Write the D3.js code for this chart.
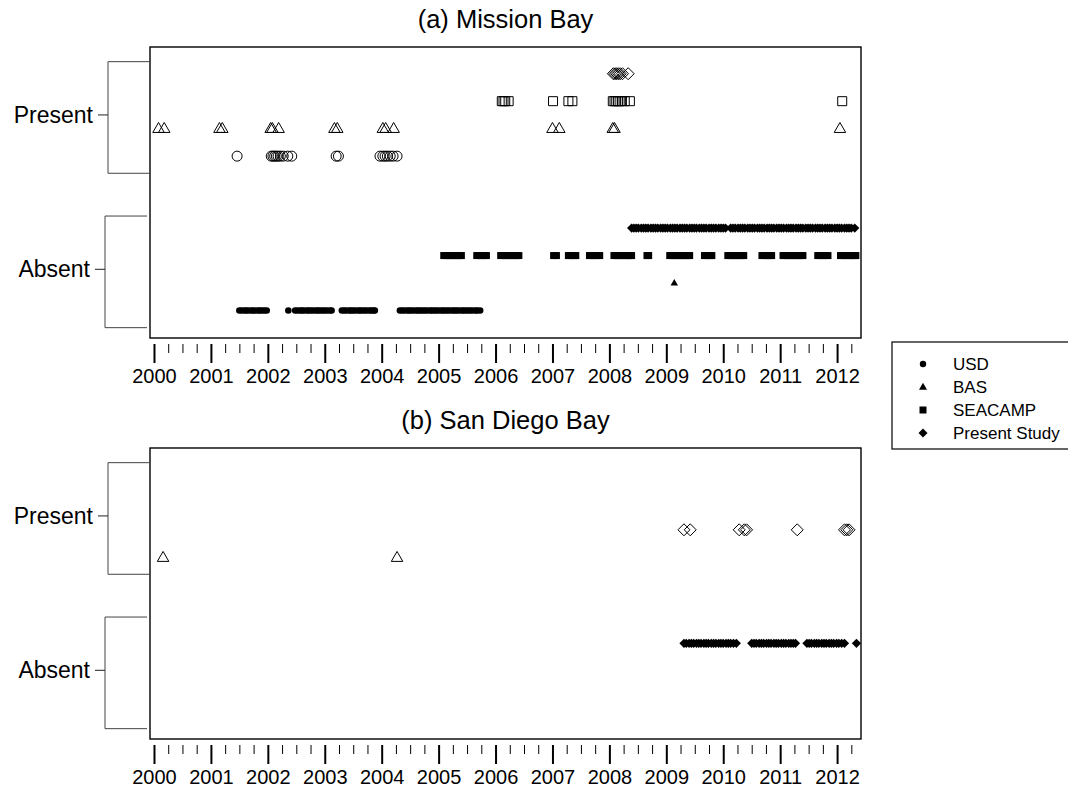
<!DOCTYPE html>
<html>
<head>
<meta charset="utf-8">
<script src="https://cdn.jsdelivr.net/npm/d3@7"></script>
<style>
  body { margin: 0; background: #fff; }
  svg text { font-family: "Liberation Sans", Arial, sans-serif; fill: #000; }
</style>
</head>
<body>
<svg id="chart" width="1068" height="787"></svg>
<script>
// ---- data (decimal years) ----
const yearTicks = [2000, 2001, 2002, 2003, 2004, 2005, 2006, 2007, 2008, 2009, 2010, 2011, 2012];
const statusLabels = ['Absent', 'Present'];
const sourceNames = ['USD', 'BAS', 'SEACAMP', 'Present Study'];
const panelTitles = ['(a) Mission Bay', '(b) San Diego Bay'];

// Mission Bay - present
const mbPresentUSD = [2001.46, 2002.06, 2002.09, 2002.12, 2002.15, 2002.18, 2002.22, 2002.27, 2002.35, 2002.42,
  2003.2, 2003.24, 2003.97, 2004.02, 2004.06, 2004.1, 2004.15, 2004.2, 2004.27];
const mbPresentBAS = [2000.08, 2000.18, 2001.15, 2001.2, 2002.05, 2002.08, 2002.19, 2003.17, 2003.22,
  2004.02, 2004.07, 2004.21, 2007.0, 2007.12, 2008.06, 2008.09, 2012.05];
const mbPresentSEACAMP = [2006.11, 2006.14, 2006.17, 2006.23, 2007.01, 2007.28, 2007.35,
  2008.06, 2008.09, 2008.12, 2008.15, 2008.18, 2008.22, 2008.27, 2008.36, 2012.09];
const mbPresentStudy = [2008.07, 2008.1, 2008.13, 2008.16, 2008.19, 2008.23, 2008.33];

// Mission Bay - absent
const mbAbsentUSD = [2001.5, 2001.54, 2001.59, 2001.62, 2001.66, 2001.71, 2001.74, 2001.78, 2001.83, 2001.86,
  2001.9, 2001.94, 2001.98, 2002.36,
  2002.48, 2002.52, 2002.57, 2002.6, 2002.64, 2002.69, 2002.72, 2002.76, 2002.8, 2002.85, 2002.88, 2002.92,
  2002.96, 2003.0, 2003.04, 2003.09, 2003.12,
  2003.3, 2003.34, 2003.38, 2003.43, 2003.46, 2003.5, 2003.54, 2003.59, 2003.62, 2003.66, 2003.7, 2003.74,
  2003.79, 2003.82, 2003.86, 2003.88,
  2004.32, 2004.36, 2004.4, 2004.45, 2004.48, 2004.52, 2004.56, 2004.61, 2004.64, 2004.68, 2004.72, 2004.76,
  2004.8, 2004.85, 2004.88, 2004.92, 2004.96, 2005.0, 2005.05, 2005.08, 2005.12, 2005.16, 2005.2, 2005.25,
  2005.28, 2005.32, 2005.36, 2005.41, 2005.44, 2005.48, 2005.52, 2005.56, 2005.6, 2005.65, 2005.68, 2005.73];
const mbAbsentBAS = [2009.14];
const mbAbsentSEACAMP = [2005.09, 2005.13, 2005.17, 2005.21, 2005.25, 2005.29, 2005.33, 2005.37, 2005.4,
  2005.67, 2005.71, 2005.76, 2005.8, 2005.84,
  2006.09, 2006.13, 2006.17, 2006.21, 2006.25, 2006.29, 2006.33, 2006.37, 2006.41,
  2007.02, 2007.07,
  2007.28, 2007.32, 2007.37, 2007.41,
  2007.65, 2007.69, 2007.74, 2007.78, 2007.83,
  2008.08, 2008.12, 2008.16, 2008.2, 2008.24, 2008.28, 2008.32, 2008.36, 2008.39,
  2008.66, 2008.69,
  2009.06, 2009.1, 2009.14, 2009.18, 2009.22, 2009.26, 2009.3, 2009.34, 2009.38, 2009.41,
  2009.67, 2009.71, 2009.76, 2009.8,
  2010.08, 2010.12, 2010.16, 2010.2, 2010.24, 2010.28, 2010.32, 2010.36,
  2010.68, 2010.72, 2010.77, 2010.81, 2010.85,
  2011.05, 2011.09, 2011.13, 2011.17, 2011.21, 2011.25, 2011.29, 2011.33, 2011.37, 2011.4,
  2011.66, 2011.7, 2011.75, 2011.79, 2011.84,
  2012.06, 2012.1, 2012.14, 2012.18, 2012.22, 2012.26, 2012.3, 2012.33];
const mbAbsentStudy = [2008.39, 2008.43, 2008.47, 2008.51, 2008.56, 2008.6, 2008.64, 2008.68, 2008.73, 2008.77,
  2008.81, 2008.85, 2008.9, 2008.94, 2008.98, 2009.02, 2009.07, 2009.11, 2009.15, 2009.19, 2009.24, 2009.28,
  2009.32, 2009.36, 2009.41, 2009.45, 2009.49, 2009.53, 2009.58, 2009.62, 2009.66, 2009.7, 2009.75, 2009.79,
  2009.83, 2009.87, 2009.92, 2009.96, 2010.0, 2010.04, 2010.13, 2010.17, 2010.21, 2010.26, 2010.3, 2010.34,
  2010.38, 2010.43, 2010.47, 2010.51, 2010.55, 2010.6, 2010.64, 2010.68, 2010.72, 2010.77, 2010.81, 2010.85,
  2010.89, 2010.94, 2010.98, 2011.02, 2011.06, 2011.11, 2011.15, 2011.19, 2011.23, 2011.28, 2011.32, 2011.36,
  2011.4, 2011.45, 2011.49, 2011.53, 2011.57, 2011.62, 2011.66, 2011.7, 2011.74, 2011.79, 2011.83, 2011.87,
  2011.91, 2011.96, 2012.0, 2012.04, 2012.08, 2012.13, 2012.17, 2012.21, 2012.25, 2012.31];

// San Diego Bay
const sdPresentBAS = [2000.16, 2004.27];
const sdPresentStudy = [2009.31, 2009.42, 2010.28, 2010.37, 2010.41, 2011.3, 2012.13, 2012.17, 2012.21];
const sdAbsentStudy = [2009.31, 2009.35, 2009.4, 2009.44, 2009.48, 2009.53, 2009.57, 2009.61, 2009.66, 2009.7,
  2009.74, 2009.79, 2009.83, 2009.87, 2009.92, 2009.96, 2010.0, 2010.05, 2010.09, 2010.13, 2010.18, 2010.23,
  2010.5, 2010.54, 2010.58, 2010.63, 2010.67, 2010.71, 2010.76, 2010.8, 2010.84, 2010.89, 2010.93, 2010.97,
  2011.02, 2011.06, 2011.1, 2011.15, 2011.19, 2011.23, 2011.27,
  2011.47, 2011.51, 2011.55, 2011.6, 2011.64, 2011.68, 2011.73, 2011.77, 2011.81, 2011.86, 2011.9, 2011.94,
  2011.99, 2012.03, 2012.08, 2012.13, 2012.34];

// ---- layout ----
const boxLeft = 150, boxRight = 861, boxHeight = 291;
const svg = d3.select('#chart');

const x = d3.scaleLinear().domain([1999.93, 2012.42]).range([boxLeft, boxRight]);
const minorTicks = d3.range(2000, 2012.3, 0.25).filter(t => t % 1 !== 0);

// marker shape around (0,0)
function shapePath(shape, s) {
  if (shape === 'triangle') {
    let h = s * Math.sqrt(3) / 2;
    return 'M0,' + (-h * 0.62) + 'L' + (s / 2) + ',' + (h * 0.38) + 'L' + (-s / 2) + ',' + (h * 0.38) + 'Z';
  }
  if (shape === 'square') {
    return 'M' + (-s / 2) + ',' + (-s / 2) + 'h' + s + 'v' + s + 'h' + (-s) + 'Z';
  }
  if (shape === 'diamond') {
    return 'M0,' + (-s) + 'L' + s + ',0L0,' + s + 'L' + (-s) + ',0Z';
  }
  return 'M' + (-s) + ',0a' + s + ',' + s + ' 0 1,0 ' + (2 * s) + ',0a' + s + ',' + s + ' 0 1,0 ' + (-2 * s) + ',0Z';
}

const hollowSize = { circle: 5, triangle: 11.5, square: 9, diamond: 6 };
const solidSize = { circle: 3.3, triangle: 7.5, square: 7, diamond: 4.6 };

function drawPanel(top, title, series) {
  let bottom = top + boxHeight;
  let y = d3.scaleLinear().domain([-0.445, 1.44]).range([bottom, top]);
  let g = svg.append('g');

  g.append('text')
    .attr('x', (boxLeft + boxRight) / 2)
    .attr('y', top - 19)
    .attr('text-anchor', 'middle')
    .style('font-size', '25.5px')
    .text(title);

  g.append('rect')
    .attr('x', boxLeft).attr('y', top)
    .attr('width', boxRight - boxLeft).attr('height', boxHeight)
    .attr('fill', 'none').attr('stroke', '#000').attr('stroke-width', 1.4);

  // brackets + y ticks
  [1, 0].forEach((v, i) => {
    let bx = i === 0 ? 108 : 105;
    let y0 = y(v + 0.345), y1 = y(v - 0.378);
    g.append('path')
      .attr('d', 'M' + (bx + 42) + ',' + y0 + 'H' + bx + 'V' + y1 + 'H' + (bx + 42))
      .attr('fill', 'none').attr('stroke', '#444').attr('stroke-width', 1);
    g.append('line')
      .attr('x1', bx - 10).attr('x2', bx)
      .attr('y1', y(v)).attr('y2', y(v))
      .attr('stroke', '#222').attr('stroke-width', 1);
    g.append('text')
      .attr('x', bx - 15).attr('y', y(v))
      .attr('dy', '0.35em')
      .attr('text-anchor', 'end')
      .style('font-size', '23px')
      .text(statusLabels[v]);
  });

  // x axis: major and minor ticks, no domain line
  let axisY = bottom + 6;
  let major = g.append('g')
    .attr('transform', 'translate(0,' + axisY + ')')
    .call(d3.axisBottom(x).tickValues(yearTicks).tickSize(19).tickPadding(6).tickFormat(d3.format('d')));
  major.select('.domain').remove();
  major.selectAll('line').attr('stroke', '#000').attr('stroke-width', 2);
  major.selectAll('text').style('font-size', '20px').attr('font-family', null);

  let minor = g.append('g')
    .attr('transform', 'translate(0,' + axisY + ')')
    .call(d3.axisBottom(x).tickValues(minorTicks).tickSize(9).tickFormat(''));
  minor.select('.domain').remove();
  minor.selectAll('line').attr('stroke', '#000').attr('stroke-width', 1);

  // points
  series.forEach(s => {
    let size = s.filled ? solidSize[s.shape] : hollowSize[s.shape];
    g.append('g').selectAll('path')
      .data(s.values)
      .enter()
      .append('path')
      .attr('transform', d => 'translate(' + x(d) + ',' + y(s.status + s.offset) + ')')
      .attr('d', shapePath(s.shape, size))
      .attr('fill', s.filled ? '#000' : 'none')
      .attr('stroke', s.filled ? 'none' : '#000')
      .attr('stroke-width', 1);
  });
}

drawPanel(47, panelTitles[0], [
  { values: mbPresentUSD, status: 1, offset: -0.267, shape: 'circle', filled: false },
  { values: mbPresentBAS, status: 1, offset: -0.089, shape: 'triangle', filled: false },
  { values: mbPresentSEACAMP, status: 1, offset: 0.089, shape: 'square', filled: false },
  { values: mbPresentStudy, status: 1, offset: 0.267, shape: 'diamond', filled: false },
  { values: mbAbsentUSD, status: 0, offset: -0.267, shape: 'circle', filled: true },
  { values: mbAbsentBAS, status: 0, offset: -0.089, shape: 'triangle', filled: true },
  { values: mbAbsentSEACAMP, status: 0, offset: 0.089, shape: 'square', filled: true },
  { values: mbAbsentStudy, status: 0, offset: 0.267, shape: 'diamond', filled: true }
]);

drawPanel(448, panelTitles[1], [
  { values: sdPresentBAS, status: 1, offset: -0.27, shape: 'triangle', filled: false },
  { values: sdPresentStudy, status: 1, offset: -0.09, shape: 'diamond', filled: false },
  { values: sdAbsentStudy, status: 0, offset: 0.175, shape: 'diamond', filled: true }
]);

// legend
const legendShapes = ['circle', 'triangle', 'square', 'diamond'];
const legendSize = { circle: 3.2, triangle: 8, square: 7, diamond: 4.5 };
let legend = svg.append('g');
legend.append('rect')
  .attr('x', 892).attr('y', 342)
  .attr('width', 200).attr('height', 107)
  .attr('fill', '#fff').attr('stroke', '#000').attr('stroke-width', 1.2);
sourceNames.forEach((name, i) => {
  let ly = 364 + i * 23;
  legend.append('path')
    .attr('transform', 'translate(923,' + ly + ')')
    .attr('d', shapePath(legendShapes[i], legendSize[legendShapes[i]]))
    .attr('fill', '#000');
  legend.append('text')
    .attr('x', 953).attr('y', ly)
    .attr('dy', '0.35em')
    .style('font-size', '17px')
    .text(name);
});
</script>
</body>
</html>
